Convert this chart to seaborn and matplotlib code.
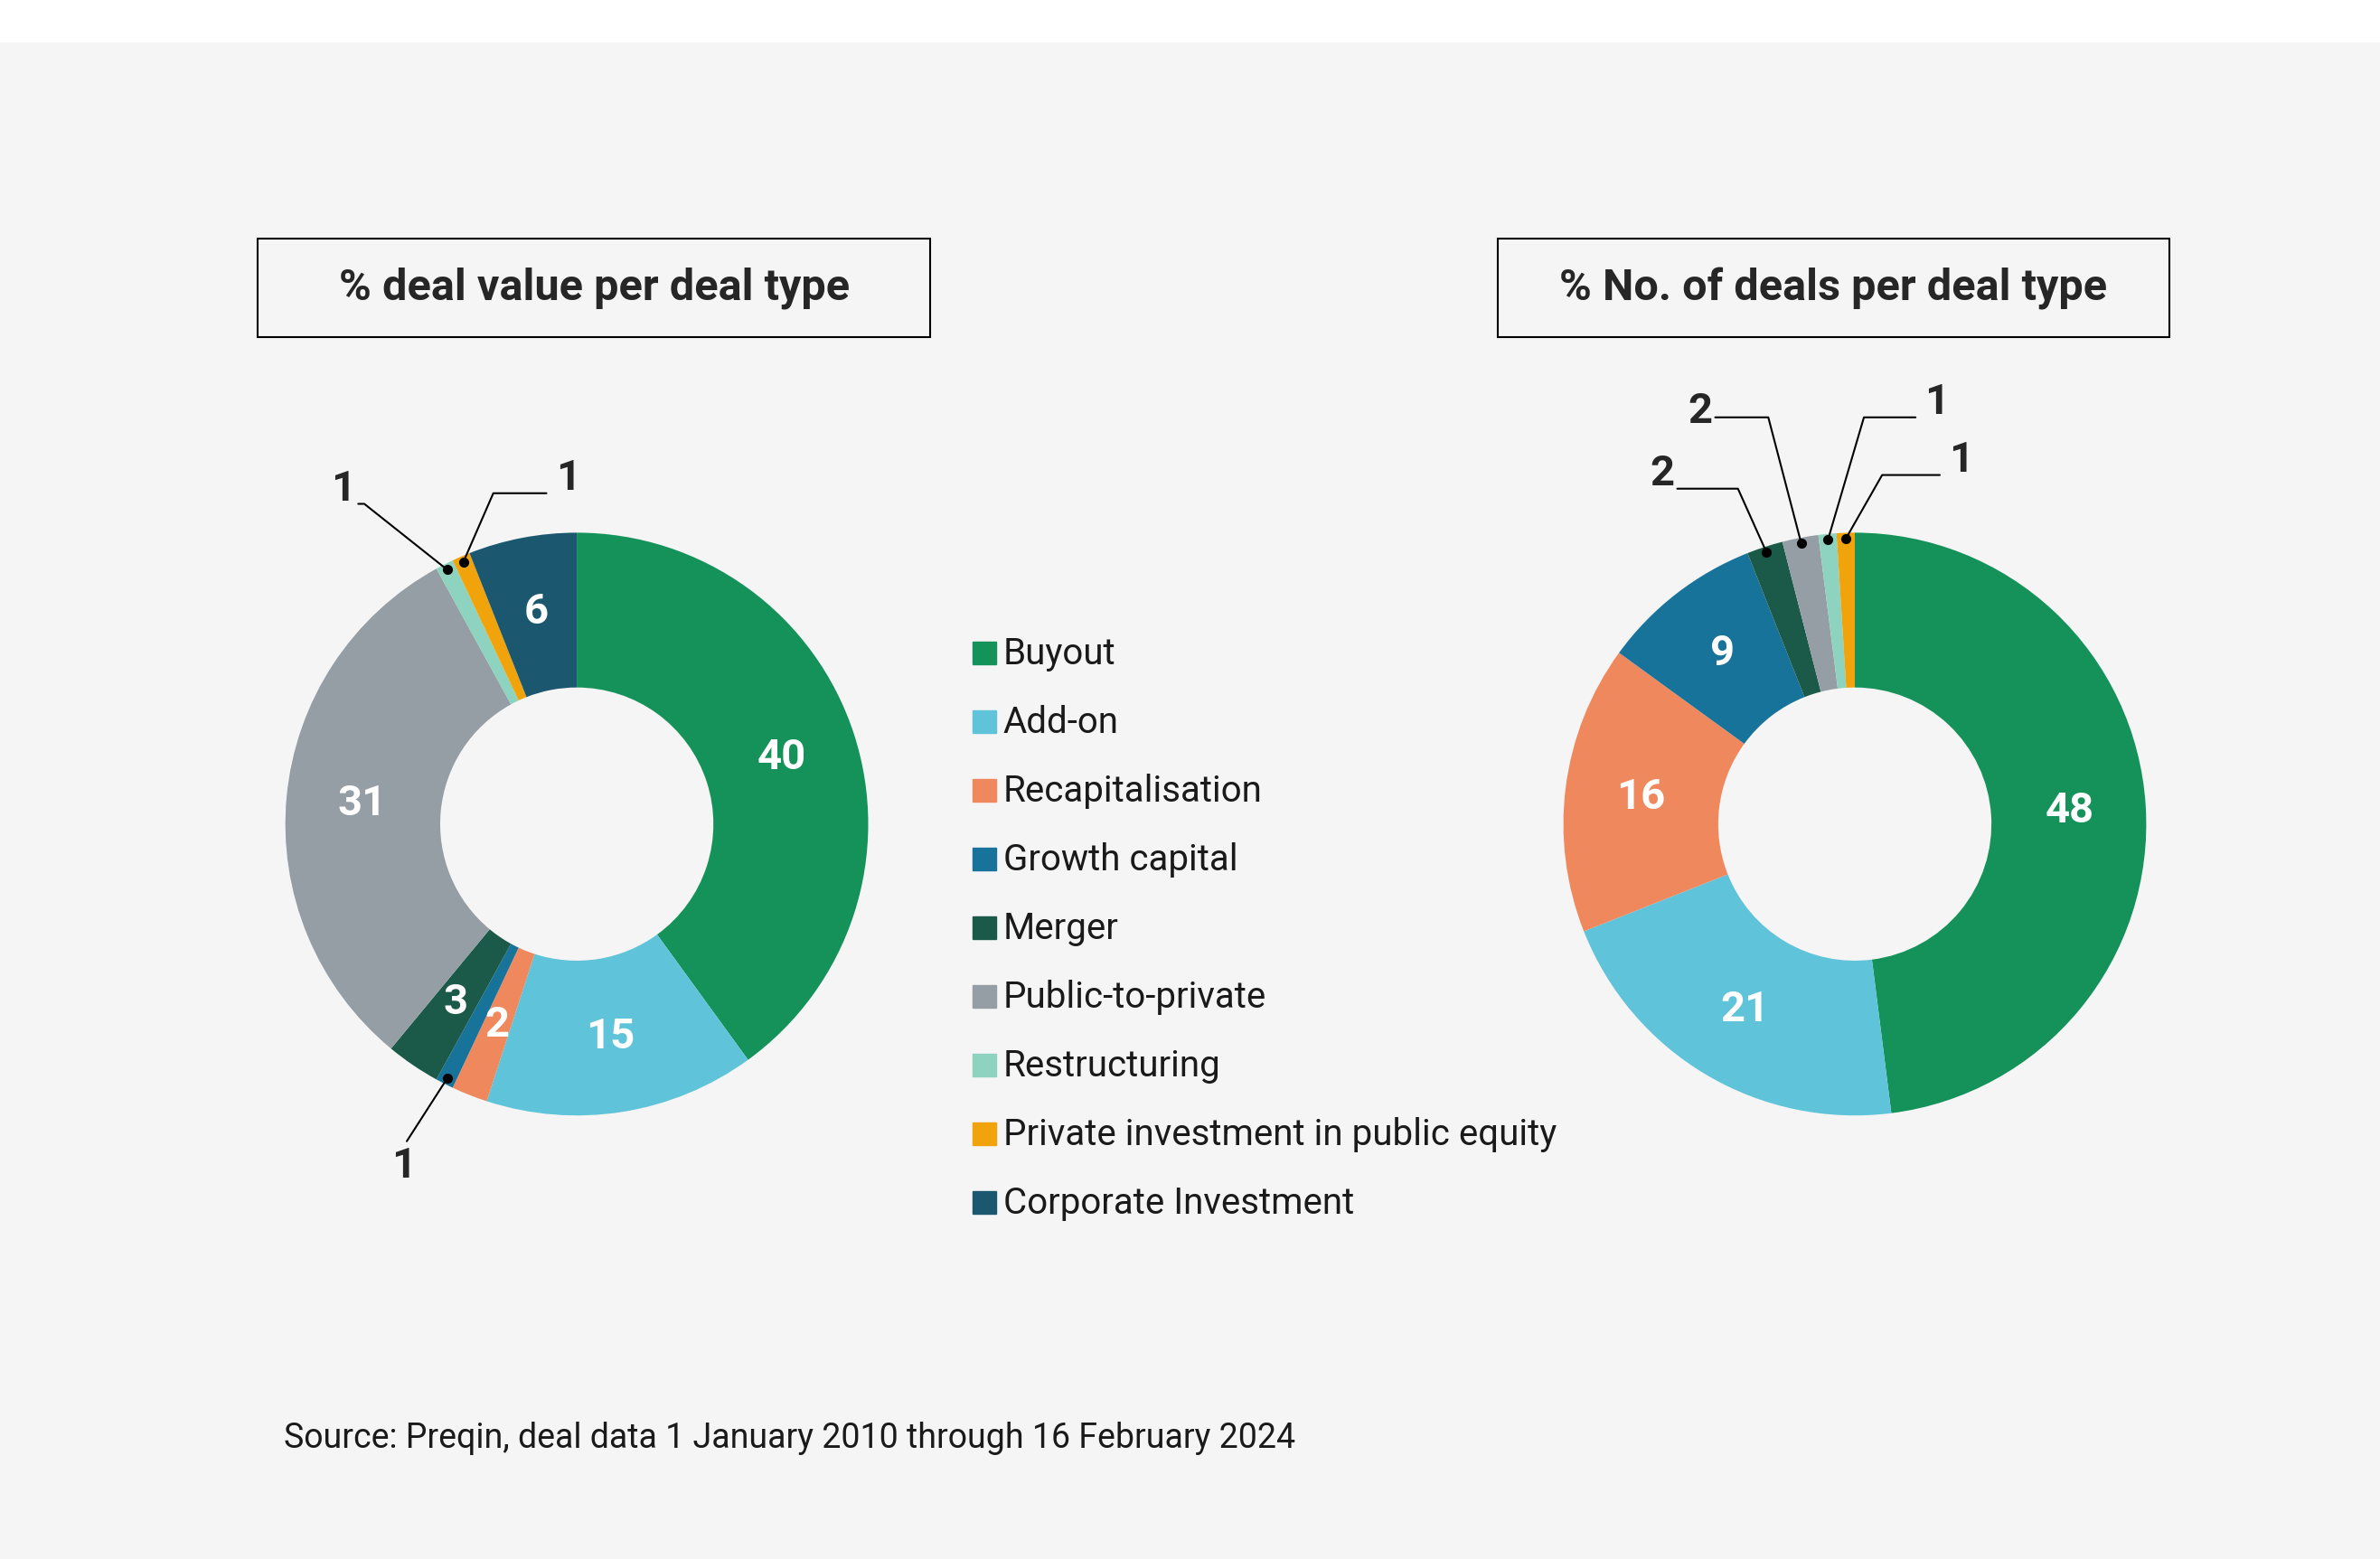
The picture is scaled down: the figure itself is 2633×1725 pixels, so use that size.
import numpy as np
import matplotlib
matplotlib.use("Agg")
import matplotlib.pyplot as plt
import seaborn as sns

categories = ["Buyout", "Add-on", "Recapitalisation", "Growth capital", "Merger",
              "Public-to-private", "Restructuring", "Private investment in public equity",
              "Corporate Investment"]
value_share = [40, 15, 2, 1, 3, 31, 1, 1, 6]
count_share = [48, 21, 16, 9, 2, 2, 1, 1, 0]
colors = ["#15925a", "#5fc4d9", "#f0885e", "#17739a", "#1b5a48",
          "#959ea5", "#8dd3bf", "#f0a30a", "#1b5870"]
title_left = "% deal value per deal type"
title_right = "% No. of deals per deal type"
source = "Source: Preqin, deal data 1 January 2010 through 16 February 2024"

sns.set_theme(style="white")
plt.rcParams['font.family'] = ['Roboto', 'DejaVu Sans']

fig = plt.figure(figsize=(26.33, 17.25), dpi=100, facecolor="white")
ax = fig.add_axes([0, 0, 1, 1])
W, H = 1568, 1568 / (2633 / 1725)
ax.axis("off")
ax.add_patch(plt.Rectangle((0, 28), W, H, color="#f5f5f5", zorder=0))

R, r = 192, 90

def labels(cx, cy, wedges, vals, inside, callouts):
    for i, (w, v) in enumerate(zip(wedges, vals)):
        th = np.deg2rad((w.theta1 + w.theta2) / 2)
        if i in inside:
            rr = 0.74 * R
            x, y = cx + rr * np.cos(th), cy + rr * np.sin(th)
            ax.text(x, y, str(v), color="white", fontsize=34, fontweight="bold",
                    ha="center", va="center", zorder=5)
        if i in callouts:
            (ex, ey), (tx, ty), ha, (ox, oy) = callouts[i]
            px, py = cx + 0.98 * R * np.cos(th), cy + 0.98 * R * np.sin(th)
            ax.plot([px, ex, tx], [py, ey, ty], color="black", lw=1.5, zorder=6)
            ax.plot(px, py, "o", color="black", ms=7, zorder=7)
            ax.text(tx + ox, ty + oy, str(v), fontsize=34,
                    fontweight="bold", ha=ha, va="center", zorder=7)

def draw(cx, cy, vals):
    wedges, _ = ax.pie(vals, colors=colors, startangle=-90, counterclock=True,
                       radius=R, center=(cx, cy), wedgeprops=dict(width=R - r, linewidth=0),
                       frame=True)
    return wedges

lw = draw(380, 543, value_share)
labels(380, 543, lw, value_share, inside=[0, 1, 2, 4, 5, 8],
       callouts={6: ((240, 332), (236, 332), "right", (-2, -10)),
                 7: ((325, 325), (360, 325), "left", (6, -10)),
                 3: ((268, 752), (268, 752), "center", (-2, 16))})
rw = draw(1222, 543, count_share)
labels(1222, 543, rw, count_share, inside=[0, 1, 2, 3],
       callouts={4: ((1145, 322), (1105, 322), "right", (-2, -10)),
                 5: ((1165, 275), (1130, 275), "right", (-2, -4)),
                 6: ((1228, 275), (1262, 275), "left", (6, -10)),
                 7: ((1240, 313), (1278, 313), "left", (6, -10))})
ax.set_xlim(0, W); ax.set_ylim(H, 0); ax.set_aspect("equal")

for (x0, x1), t in [((170, 613), title_left), ((987, 1429), title_right)]:
    ax.add_patch(plt.Rectangle((x0, 157), x1 - x0, 65, fill=False, ec="black", lw=1.5, zorder=3))
    ax.text((x0 + x1) / 2, 190, t, fontsize=35, fontweight="bold", ha="center", va="center")

for i, (c, col) in enumerate(zip(categories, colors)):
    y = 431 + i * 45.25
    ax.add_patch(plt.Rectangle((641, y - 8), 15, 15, color=col, zorder=3))
    ax.text(661, y, c, fontsize=29, ha="left", va="center", color="#1a1a1a")

ax.text(187, 948, source, fontsize=27, ha="left", va="center", color="#1a1a1a")
fig.savefig("out.png", dpi=100, facecolor="white")
